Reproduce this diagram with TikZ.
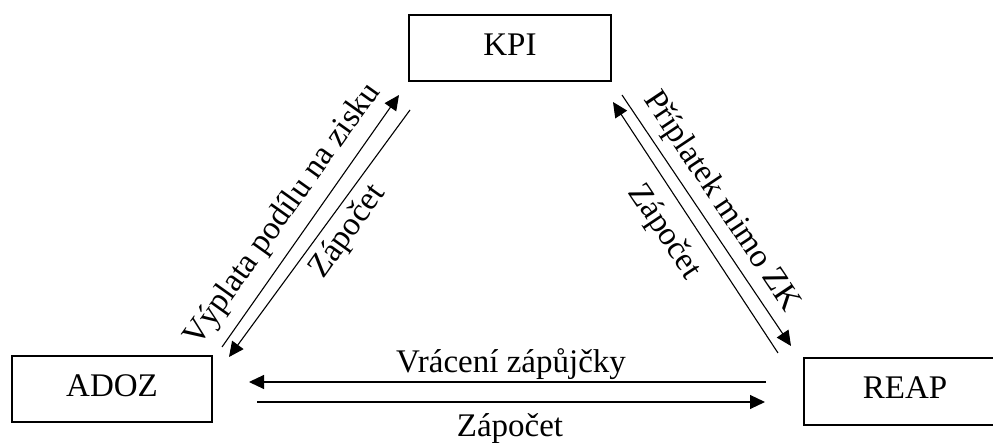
\documentclass[tikz,border=0pt]{standalone}
\usepackage{fontspec}
\setmainfont{Liberation Serif}
\usetikzlibrary{arrows.meta}
\begin{document}
\begin{tikzpicture}[x=0.5pt,y=-0.5pt,
  box/.style={draw, line width=1pt, minimum width=#1, minimum height=33pt, inner sep=0pt, text depth=3.5pt, font=\fontsize{16.5}{19}\selectfont},
  flow/.style={line width=0.55pt, -{Triangle[length=7.5pt,width=7pt]}},
  lbl/.style={inner sep=0pt, font=\fontsize{16.5}{19}\selectfont}]
\clip (0,0) rectangle (993,443);
\node[box=101pt] (kpi) at (510,48) {KPI};
\node[box=100pt] (adoz) at (112,389) {ADOZ};
\node[box=101pt, minimum height=33.5pt] (reap) at (905,391.5) {REAP};
\coordinate (l1s) at (222,347); \coordinate (l1e) at (399,95);
\coordinate (l2s) at (410,110); \coordinate (l2e) at (229,357);
\coordinate (r1s) at (622,95);  \coordinate (r1e) at (791,346);
\coordinate (r2s) at (778,353); \coordinate (r2e) at (613,102);
\coordinate (h1s) at (766,382); \coordinate (h1e) at (249,382);
\coordinate (h2s) at (257,402); \coordinate (h2e) at (765,402);
\draw[flow] (l1s) -- (l1e);
\draw[flow] (l2s) -- (l2e);
\draw[flow] (r1s) -- (r1e);
\draw[flow] (r2s) -- (r2e);
\draw[flow] (h1s) -- (h1e);
\draw[flow] (h2s) -- (h2e);
\node[lbl, rotate=54.5] (t1) at (283,215) {Výplata podílu na zisku};
\node[lbl, rotate=54.5] (t2) at (348,232) {Zápočet};
\node[lbl, rotate=-56.3] (t3) at (721,202) {Příplatek mimo ZK};
\node[lbl, rotate=-56.3] (t4) at (664,232) {Zápočet};
\node[lbl, anchor=base] (t5) at (511,373) {Vrácení zápůjčky};
\node[lbl, anchor=base] (t6) at (510,437) {Zápočet};
\end{tikzpicture}
\end{document}
